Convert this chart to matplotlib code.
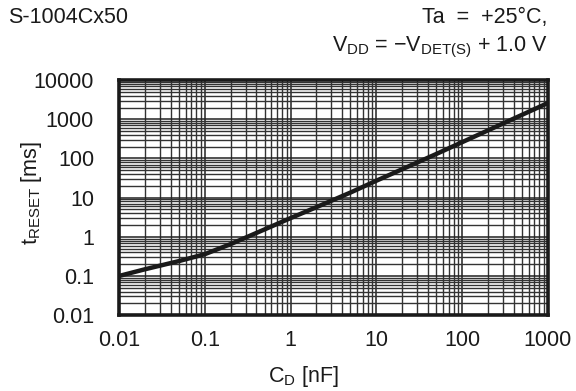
import matplotlib.pyplot as plt
from matplotlib.ticker import LogLocator, NullFormatter, FixedLocator

plt.rcParams['font.family'] = ['Liberation Sans', 'DejaVu Sans']
plt.rcParams['mathtext.fontset'] = 'custom'
plt.rcParams['mathtext.rm'] = 'Liberation Sans'

# values
cap_nf = [0.01, 0.02, 0.05, 0.1, 0.2, 0.5, 1, 2, 5, 10, 20, 50, 100, 200, 500, 1000]
t_reset_ms = [0.1, 0.148, 0.24, 0.36, 0.65, 1.55, 3.0, 5.7, 13.5, 27, 53, 130, 260, 520, 1300, 2600]

x_ticks = [0.01, 0.1, 1, 10, 100, 1000]
x_labels = ['0.01', '0.1', '1', '10', '100', '1000']
y_ticks = [0.01, 0.1, 1, 10, 100, 1000, 10000]
y_labels = ['0.01', '0.1', '1', '10', '100', '1000', '10000']

fs = 15.5

fig = plt.figure(figsize=(5.76, 3.91), dpi=100)
ax = fig.add_axes([0.2066, 0.194, 0.7444, 0.601])

ax.plot(cap_nf, t_reset_ms, color='#1a1a1a', linewidth=3.2, solid_capstyle='butt', zorder=5)
ax.set_xscale('log')
ax.set_yscale('log')
ax.set_xlim(0.01, 1000)
ax.set_ylim(0.01, 10000)

ax.xaxis.set_major_locator(FixedLocator(x_ticks))
ax.yaxis.set_major_locator(FixedLocator(y_ticks))
ax.set_xticklabels(x_labels)
ax.set_yticklabels(y_labels)
ax.xaxis.set_minor_locator(LogLocator(base=10, subs=range(2, 10), numticks=100))
ax.yaxis.set_minor_locator(LogLocator(base=10, subs=range(2, 10), numticks=100))
ax.xaxis.set_minor_formatter(NullFormatter())
ax.yaxis.set_minor_formatter(NullFormatter())

ax.grid(which='major', color='#222222', linewidth=1.1)
ax.grid(which='minor', color='#333333', linewidth=1.0)
ax.tick_params(which='both', length=0, labelsize=fs, colors='#1a1a1a')
ax.tick_params(axis='x', pad=11)
ax.tick_params(axis='y', pad=18)

for s in ax.spines.values():
    s.set_linewidth(2.6)
    s.set_color('#1a1a1a')

ax.set_xlabel(r'C$\mathregular{_D}$ [nF]', fontsize=fs, color='#1a1a1a', va='center')
ax.set_ylabel(r't$\mathregular{_{RESET}}$ [ms]', fontsize=fs, color='#1a1a1a', va='center')
ax.xaxis.set_label_coords(0.429, -0.262)
ax.yaxis.set_label_coords(-0.205, 0.519)

fig.text(0.014, 0.955, 'S-1004Cx50', fontsize=fs, color='#1a1a1a', ha='left', va='center')
fig.text(0.951, 0.955, 'Ta  =  +25°C,', fontsize=fs, color='#1a1a1a', ha='right', va='center')
fig.text(0.951, 0.878, r'V$\mathregular{_{DD}}$ = −V$\mathregular{_{DET(S)}}$ + 1.0 V',
         fontsize=fs, color='#1a1a1a', ha='right', va='center')

fig.savefig('out.png', dpi=100)
